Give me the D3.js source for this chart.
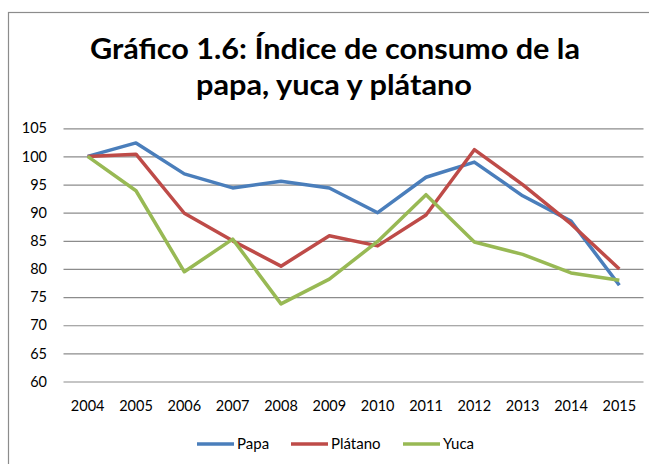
<!DOCTYPE html>
<html>
  <head>
    <meta charset="UTF-8" />
    <style>
      body {
        margin: 0;
        background-color: #ffffff;
      }
      svg {
        display: block;
        font-family: Lato, "Open Sans", sans-serif;
      }
      .grid line {
        stroke: #8c8c8c;
        stroke-width: 1.2;
      }
      .series {
        fill: none;
        stroke-width: 3.5;
        stroke-linejoin: round;
      }
    </style>
  </head>

  <body>
    <svg id="chart" width="649" height="464"></svg>

    <script src="https://d3js.org/d3.v7.min.js"></script>
    <script>
      // data
      var years = ["2004", "2005", "2006", "2007", "2008", "2009", "2010", "2011", "2012", "2013", "2014", "2015"];
      var papa = [100, 102.4, 96.9, 94.4, 95.6, 94.4, 90, 96.3, 99, 93, 88.5, 77.1];
      var platano = [100, 100.4, 89.9, 85, 80.5, 85.9, 84.1, 89.6, 101.2, 95, 88, 80];
      var yuca = [100, 93.9, 79.5, 85.3, 73.8, 78.2, 84.9, 93.2, 84.8, 82.6, 79.3, 78];
      var yTicks = [60, 65, 70, 75, 80, 85, 90, 95, 100, 105];
      var seriesNames = ["Papa", "Plátano", "Yuca"];
      var seriesColors = ["#4a7ebb", "#be4b48", "#98b954"];
      var titleLines = ["Gráfico 1.6: Índice de consumo de la", "papa, yuca y plátano"];

      var series = [papa, platano, yuca].map(function (vals, i) {
        return { name: seriesNames[i], color: seriesColors[i], values: vals };
      });

      const plotLeft = 63.5;
      const plotRight = 643.5;
      const plotTop = 128.3;
      const plotBottom = 381.5;

      const svg = d3.select("#chart");

      // outer frame of the chart area
      svg
        .append("rect")
        .attr("x", 8.5)
        .attr("y", 12.5)
        .attr("width", 700)
        .attr("height", 500)
        .attr("fill", "#ffffff")
        .attr("stroke", "#8c8c8c")
        .attr("stroke-width", 1.2);

      // title
      svg
        .append("text")
        .attr("x", 335)
        .attr("y", 59)
        .attr("text-anchor", "middle")
        .attr("font-size", 28.5)
        .attr("font-weight", "bold")
        .attr("textLength", 490)
        .attr("lengthAdjust", "spacingAndGlyphs")
        .text(titleLines[0]);

      svg
        .append("text")
        .attr("x", 334)
        .attr("y", 95)
        .attr("text-anchor", "middle")
        .attr("font-size", 28.5)
        .attr("font-weight", "bold")
        .attr("textLength", 276)
        .attr("lengthAdjust", "spacingAndGlyphs")
        .text(titleLines[1]);

      const xScale = d3.scaleBand().domain(years).range([plotLeft, plotRight]);

      const yScale = d3
        .scaleLinear()
        .domain([60, 105])
        .range([plotBottom, plotTop]);

      // horizontal gridlines
      svg
        .append("g")
        .attr("class", "grid")
        .attr("transform", `translate(${plotLeft}, 0)`)
        .call(
          d3
            .axisLeft(yScale)
            .tickValues(yTicks)
            .tickSize(-(plotRight - plotLeft))
            .tickFormat("")
        )
        .call((g) => g.select(".domain").remove());

      // y labels
      svg
        .append("g")
        .attr("transform", `translate(47, 0)`)
        .call(d3.axisLeft(yScale).tickValues(yTicks).tickSize(0).tickPadding(0))
        .call((g) => g.select(".domain").remove())
        .selectAll("text")
        .attr("font-family", "Lato, sans-serif")
        .attr("font-size", 14.5)
        .attr("fill", "#000");

      // x labels
      svg
        .append("g")
        .attr("transform", `translate(0, ${plotBottom})`)
        .call(d3.axisBottom(xScale).tickSize(0).tickPadding(19))
        .call((g) => g.select(".domain").remove())
        .selectAll("text")
        .attr("font-family", "Lato, sans-serif")
        .attr("font-size", 14.5)
        .attr("fill", "#000");

      const line = d3
        .line()
        .x((d, i) => xScale(years[i]) + xScale.bandwidth() / 2)
        .y((d) => yScale(d));

      svg
        .selectAll(".series")
        .data(series)
        .enter()
        .append("path")
        .attr("class", "series")
        .attr("stroke", (s) => s.color)
        .attr("d", (s) => line(s.values));

      // legend
      const legendX = [197, 291, 403];
      const legend = svg
        .selectAll(".legend")
        .data(series)
        .enter()
        .append("g")
        .attr("class", "legend")
        .attr("transform", (s, i) => `translate(${legendX[i]}, 444)`);

      legend
        .append("line")
        .attr("x1", 0)
        .attr("x2", 37)
        .attr("stroke", (s) => s.color)
        .attr("stroke-width", 3.5);

      legend
        .append("text")
        .attr("x", 40)
        .attr("y", 5)
        .attr("font-size", 15)
        .text((s) => s.name);
    </script>
  </body>
</html>
